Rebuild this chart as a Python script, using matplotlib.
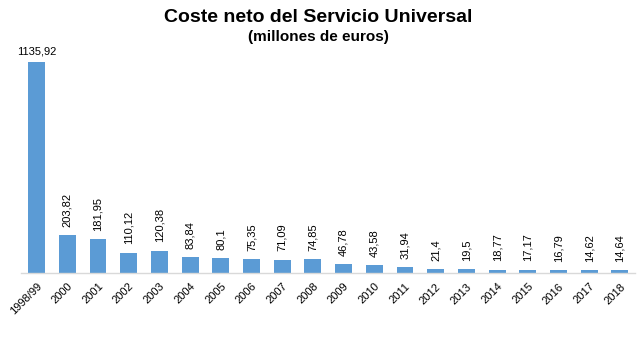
import matplotlib
matplotlib.use("Agg")
import matplotlib.pyplot as plt

plt.rcParams['font.family'] = ['Liberation Sans', 'DejaVu Sans']

# Datos
anios = ['1998/99', '2000', '2001', '2002', '2003', '2004', '2005', '2006', '2007',
         '2008', '2009', '2010', '2011', '2012', '2013', '2014', '2015', '2016',
         '2017', '2018']
coste = [1135.92, 203.82, 181.95, 110.12, 120.38, 83.84, 80.1, 75.35, 71.09,
         74.85, 46.78, 43.58, 31.94, 21.4, 19.5, 18.77, 17.17, 16.79, 14.62, 14.64]

fig = plt.figure(figsize=(6.43, 3.48), dpi=100)
ax = fig.add_axes([0.033, 0.2155, 0.955, 0.6405])

x = list(range(len(anios)))
ax.bar(x, coste, width=0.55, color='#5B9BD5', zorder=2)

ax.set_xlim(-0.5, len(anios) - 0.5)
ax.set_ylim(0, 1200)

# Etiquetas de datos
for i, v in enumerate(coste):
    txt = f"{v:g}".replace('.', ',')
    if i == 0:
        ax.annotate(txt, (i, v), xytext=(0, 4), textcoords='offset points',
                    ha='center', va='bottom', fontsize=8)
    else:
        ax.annotate(txt, (i, v), xytext=(0, 6), textcoords='offset points',
                    ha='center', va='bottom', rotation=90, fontsize=8)

ax.set_xticks(x)
ax.set_xticklabels(anios, rotation=45, ha='right', va='top',
                   rotation_mode='anchor', fontsize=8)
ax.tick_params(axis='x', length=0, pad=6)
ax.set_yticks([])

for s in ['top', 'right', 'left']:
    ax.spines[s].set_visible(False)
ax.spines['bottom'].set_color('#D9D9D9')
ax.spines['bottom'].set_linewidth(1)

fig.text(0.495, 0.95, 'Coste neto del Servicio Universal', ha='center',
         va='center', fontsize=14, fontweight='bold')
fig.text(0.495, 0.893, '(millones de euros)', ha='center', va='center',
         fontsize=11, fontweight='bold')

fig.savefig('out.png', dpi=100)
